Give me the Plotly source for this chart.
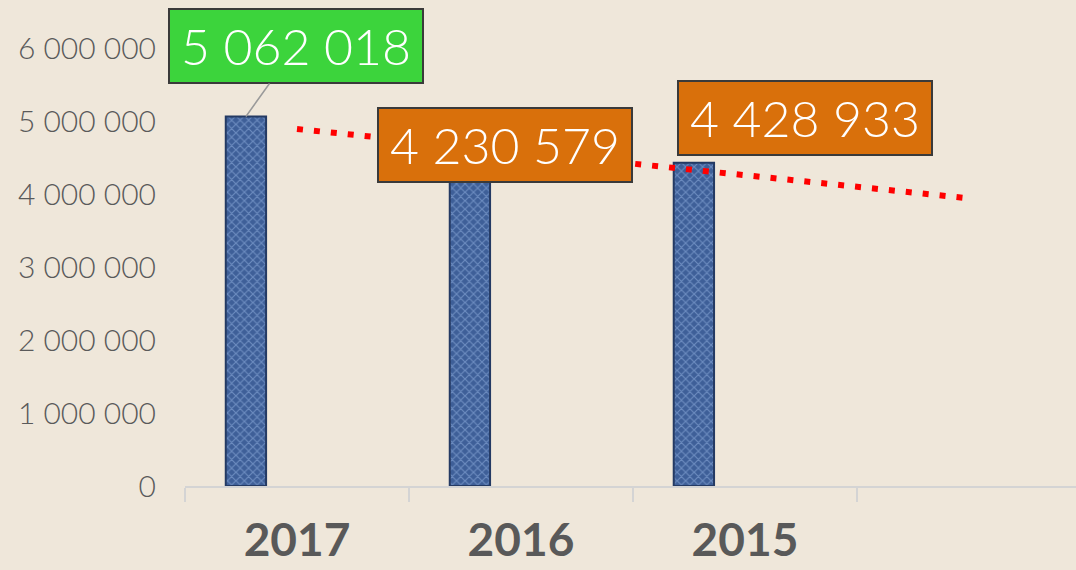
import plotly.graph_objects as go
import numpy as np

years = ["2017", "2016", "2015"]
values = [5062018, 4230579, 4428933]
label_colors = ["#3cd43c", "#d9700b", "#d9700b"]
y_ticks = [0, 1000000, 2000000, 3000000, 4000000, 5000000, 6000000]
y_tick_text = ["0", "1 000 000", "2 000 000", "3 000 000", "4 000 000", "5 000 000", "6 000 000"]

categories = years + [" "]

def fmt(v):
    return f"{v:,}".replace(",", " ")

# linear trendline (Excel-style) from data, forecast one category forward
xi = np.arange(len(values))
slope, intercept = np.polyfit(xi, values, 1)
trend_y = [intercept, intercept + slope * (len(categories) - 1)]

BG = "#efe7da"
fig = go.Figure()

fig.add_trace(go.Bar(
    x=years, y=values,
    width=0.18, offset=-0.318,
    marker=dict(
        color="#4d72ad",
        line=dict(color="#243a63", width=2),
        pattern=dict(shape="x", fgcolor="#9ab8e6", bgcolor="#3e5f98", size=6, solidity=0.35),
    ),
    hoverinfo="skip",
))

fig.add_trace(go.Scatter(
    x=[categories[0], categories[-1]], y=trend_y,
    mode="lines",
    line=dict(color="#ff0000", width=6, dash="6px,11px"),
    hoverinfo="skip",
))

# label offsets (pixels) relative to bar tops
shifts = [(50, -70), (35, 32), (111, 45)]
bar_center = -0.228
for i, (yr, v) in enumerate(zip(years, values)):
    dx, dy = shifts[i]
    common = dict(
        x=i + bar_center, y=v, xref="x", yref="y",
        text=fmt(v),
        font=dict(family="Lato", size=50, color="white", weight=300),
        bgcolor=label_colors[i], bordercolor="#3a3a3a", borderwidth=2,
        width=252, height=72, borderpad=0,
        xanchor="center", yanchor="middle",
    )
    if i == 0:
        fig.add_annotation(**common, showarrow=True, ax=dx, ay=dy, axref="pixel", ayref="pixel",
                           arrowhead=0, arrowwidth=1.5, arrowcolor="#9a9a9a", standoff=0)
    else:
        fig.add_annotation(**common, showarrow=False, xshift=dx, yshift=dy)

fig.update_layout(
    width=1076, height=570,
    paper_bgcolor=BG, plot_bgcolor=BG,
    margin=dict(l=185, r=0, t=48, b=84),
    showlegend=False,
    xaxis=dict(
        type="category", categoryorder="array", categoryarray=categories,
        range=[-0.5, 3.478], automargin=False,
        tickson="boundaries", ticks="outside", ticklen=14, tickcolor="#d4d4d4", tickwidth=1.5,
        showline=True, linecolor="#d4d4d4", linewidth=2,
        showgrid=False, zeroline=False,
        tickfont=dict(family="Lato", size=46, color="#595959", weight="bold"),
        ticklabelstandoff=13,
    ),
    yaxis=dict(
        range=[0, 6000000], tickvals=y_ticks, ticktext=y_tick_text, automargin=False,
        showgrid=False, zeroline=False, showline=False,
        tickfont=dict(family="Lato", size=30, color="#5a5a5a", weight=300),
        ticklabelstandoff=28,
    ),
)

fig.write_html("out.html", config={"displayModeBar": False},
               post_script="document.body.style.margin='0';document.body.style.background='#efe7da';")
